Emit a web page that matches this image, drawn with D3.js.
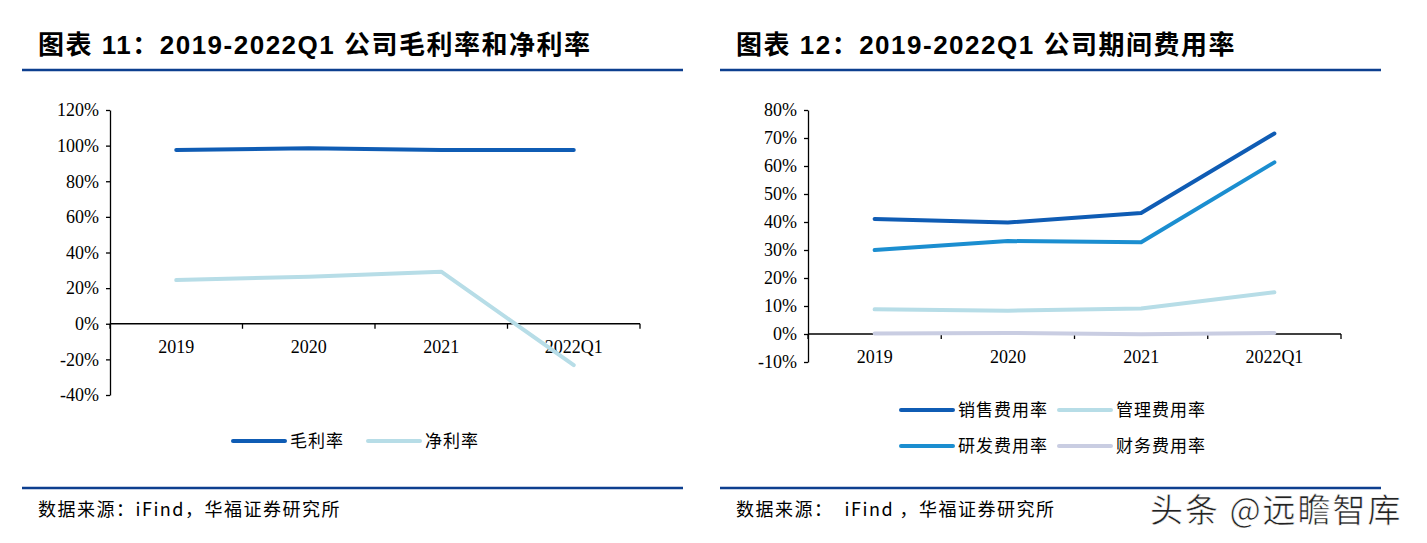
<!DOCTYPE html>
<html>
<head>
<meta charset="utf-8">
<script src="https://cdn.jsdelivr.net/npm/d3@7"></script>
<style>
  body { margin: 0; background: #fff; }
  text { fill: #000; }
</style>
</head>
<body>
<script>
// categories shared by both charts
const years = ["2019", "2020", "2021", "2022Q1"];

// chart 11: gross / net margin (%)
const grossMargin = [97.5, 98.5, 97.6, 97.6];
const netMargin = [24.5, 26.4, 29.2, -23.2];
const leftTicks = [-40, -20, 0, 20, 40, 60, 80, 100, 120];

// chart 12: expense ratios (%)
const sellingRate = [41.1, 39.8, 43.2, 71.6];
const adminRate = [8.8, 8.3, 9.1, 14.9];
const rdRate = [30.0, 33.2, 32.8, 61.3];
const financeRate = [0.2, 0.4, -0.1, 0.4];
const rightTicks = [-10, 0, 10, 20, 30, 40, 50, 60, 70, 80];

const W = 1427, H = 543;
const cjk = "'Noto Sans CJK SC', sans-serif";
const serif = "'Liberation Serif', 'Times New Roman', serif";
const navy = "#0D3F8F";

const svg = d3.select("body").append("svg")
    .attr("width", W)
    .attr("height", H);

function panel(opt) {
    const g = svg.append("g");

    // title
    g.append("text")
        .attr("x", opt.x0 + 16)
        .attr("y", 54)
        .attr("font-family", "'Liberation Sans', " + cjk)
        .attr("font-weight", "bold")
        .attr("font-size", 26)
        .attr("letter-spacing", 1.5)
        .text(opt.title);

    g.append("line")
        .attr("x1", opt.x0).attr("x2", opt.x0 + 661)
        .attr("y1", 70).attr("y2", 70)
        .attr("stroke", navy).attr("stroke-width", 2.5);
    g.append("line")
        .attr("x1", opt.x0).attr("x2", opt.x0 + 661)
        .attr("y1", 488).attr("y2", 488)
        .attr("stroke", navy).attr("stroke-width", 2.5);

    g.append("text")
        .attr("x", opt.x0 + 16)
        .attr("y", 516)
        .attr("font-family", cjk)
        .attr("font-size", 18)
        .attr("letter-spacing", 1.5)
        .attr("xml:space", "preserve")
        .style("white-space", "pre")
        .text(opt.source);

    const x = d3.scaleBand().domain(years).range([opt.left, opt.right]);
    const y = d3.scaleLinear().domain(opt.domain).range([opt.bottom, opt.top]);

    // y axis
    const ya = g.append("g")
        .attr("transform", `translate(${opt.left},0)`)
        .call(d3.axisLeft(y).tickValues(opt.ticks).tickFormat(d => d + "%").tickSize(4).tickSizeOuter(0));
    ya.select(".domain").attr("stroke", "#000").attr("stroke-width", 1.3);
    ya.selectAll(".tick line").attr("stroke", "#000").attr("stroke-width", 1.3);
    ya.selectAll(".tick text")
        .attr("font-family", serif).attr("font-size", 18).attr("fill", "#000").attr("x", -11);

    // x axis at zero line, ticks at band edges
    const y0 = y(0);
    g.append("line")
        .attr("x1", opt.left).attr("x2", opt.right)
        .attr("y1", y0).attr("y2", y0)
        .attr("stroke", "#000").attr("stroke-width", 1.3);
    const edges = years.map(d => x(d)).concat([opt.right]);
    g.selectAll(".xt").data(edges).join("line")
        .attr("x1", d => d).attr("x2", d => d)
        .attr("y1", y0).attr("y2", y0 + 5)
        .attr("stroke", "#000").attr("stroke-width", 1.3);
    g.selectAll(".xl").data(years).join("text")
        .attr("x", d => x(d) + x.bandwidth() / 2)
        .attr("y", y0 + 29)
        .attr("text-anchor", "middle")
        .attr("font-family", serif).attr("font-size", 18)
        .text(d => d);

    const line = d3.line()
        .x((d, i) => x(years[i]) + x.bandwidth() / 2)
        .y(d => y(d));

    opt.series.forEach(s => {
        g.append("path")
            .datum(s.values)
            .attr("d", line)
            .attr("fill", "none")
            .attr("stroke", s.color)
            .attr("stroke-width", 4)
            .attr("stroke-linecap", "round")
            .attr("stroke-linejoin", "round");
    });

    // legend
    opt.series.forEach(s => {
        const lg = g.append("g").attr("transform", `translate(${s.lx},${s.ly})`);
        lg.append("line")
            .attr("x1", 0).attr("x2", 52)
            .attr("stroke", s.color).attr("stroke-width", 4)
            .attr("stroke-linecap", "round");
        lg.append("text")
            .attr("x", 57).attr("y", 6)
            .attr("font-family", cjk).attr("font-size", 17)
            .attr("letter-spacing", 1)
            .text(s.name);
    });
}

panel({
    x0: 22,
    title: "图表 11：2019-2022Q1 公司毛利率和净利率",
    source: "数据来源：iFind，华福证券研究所",
    left: 110, right: 640, top: 110, bottom: 395,
    domain: [-40, 120], ticks: leftTicks,
    series: [
        { name: "毛利率", values: grossMargin, color: "#0F5CB4", lx: 233, ly: 441 },
        { name: "净利率", values: netMargin, color: "#B7DDE7", lx: 368, ly: 441 }
    ]
});

panel({
    x0: 720,
    title: "图表 12：2019-2022Q1 公司期间费用率",
    source: "数据来源：  iFind ，华福证券研究所",
    left: 808, right: 1341, top: 110, bottom: 362,
    domain: [-10, 80], ticks: rightTicks,
    series: [
        { name: "管理费用率", values: adminRate, color: "#B7DDE7", lx: 1059, ly: 410 },
        { name: "财务费用率", values: financeRate, color: "#C9CDE2", lx: 1059, ly: 446 },
        { name: "研发费用率", values: rdRate, color: "#1B8ED0", lx: 901, ly: 446 },
        { name: "销售费用率", values: sellingRate, color: "#0F5CB4", lx: 901, ly: 410 }
    ]
});

// watermark
svg.append("text")
    .attr("x", 1150).attr("y", 522)
    .attr("font-family", cjk)
    .attr("font-size", 33)
    .attr("letter-spacing", 2)
    .attr("stroke", "#fff").attr("stroke-width", 0.6)
    .style("fill", "#222")
    .text("头条 @远瞻智库");
</script>
</body>
</html>
